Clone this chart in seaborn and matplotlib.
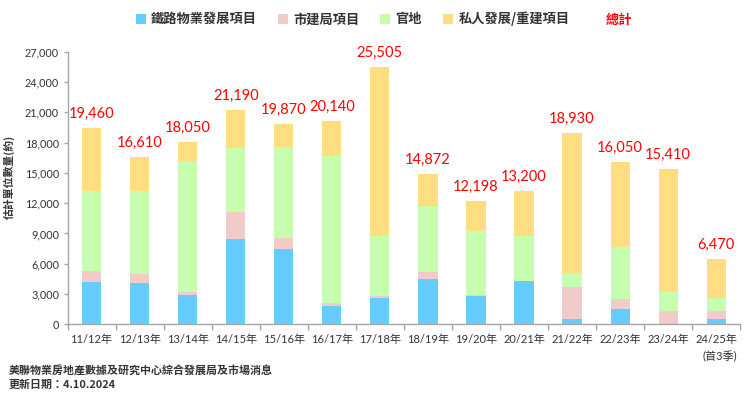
import matplotlib
matplotlib.use("Agg")
import matplotlib.pyplot as plt
import seaborn as sns
import numpy as np
from matplotlib.patches import Patch
from matplotlib.font_manager import FontProperties

# ---------------- data ----------------
periods = ["11/12年", "12/13年", "13/14年", "14/15年", "15/16年", "16/17年", "17/18年",
           "18/19年", "19/20年", "20/21年", "21/22年", "22/23年", "23/24年", "24/25年"]
tick_labels = periods[:-1] + ["24/25年\n(首3季)"]

rail = [4200, 4050, 2900, 8400, 7500, 1800, 2600, 4500, 2800, 4300, 500, 1550, 0, 550]
ura = [1100, 900, 270, 2700, 1060, 300, 230, 700, 100, 0, 3200, 920, 1300, 800]
govt = [7900, 8230, 12980, 6330, 8970, 14550, 5900, 6500, 6330, 4430, 1350, 5170, 1900, 1250]
private = [6260, 3430, 1900, 3760, 2340, 3490, 16775, 3172, 2968, 4470, 13880, 8410, 12210, 3870]
totals = [19460, 16610, 18050, 21190, 19870, 20140, 25505, 14872, 12198, 13200, 18930, 16050, 15410, 6470]

series_names = ["鐵路物業發展項目", "市建局項目", "官地", "私人發展/重建項目"]
total_name = "總計"
colors = ["#66CCFF", "#F2CBCB", "#C6FFB0", "#FFDD80"]

y_ticks = list(range(0, 27001, 3000))
y_label = "估計單位數量(約)"
note1 = "美聯物業房地產數據及研究中心綜合發展局及市場消息"
note2 = "更新日期：4.10.2024"

# ---------------- style ----------------
sns.set_theme(style="white")
plt.rcParams['font.family'] = ['Lato', 'Noto Sans CJK TC', 'DejaVu Sans']
cjk_bold = lambda size: FontProperties(family=['Noto Sans CJK TC', 'DejaVu Sans'], weight='bold', size=size)

fig = plt.figure(figsize=(7.5, 3.97), dpi=100)
ax = fig.add_axes([0.090, 0.183, 0.897, 0.687])

stack = np.cumsum(np.array([rail, ura, govt, private]), axis=0)
for i in reversed(range(4)):
    sns.barplot(x=periods, y=stack[i], order=periods, color=colors[i], saturation=1,
                width=0.4, errorbar=None, edgecolor='none', linewidth=0, ax=ax)

for i, t in enumerate(totals):
    ax.text(i, t + 1000, f"{t:,}", ha='center', va='baseline', color='#FF0000', fontsize=10.5)

ax.set_ylim(0, 27000)
ax.set_xlim(-0.5, len(periods) - 0.5)
ax.set_yticks(y_ticks)
ax.set_yticklabels([f"{v:,}" for v in y_ticks], fontsize=7.8, color='#333333')
ax.set_xticks(range(len(periods)))
ax.set_xticklabels(tick_labels, fontsize=8, color='#333333', linespacing=1.6, multialignment='right')
ax.set_xticks(np.arange(-0.5, len(periods), 1), minor=True)
ax.set_xlabel("")
ax.set_ylabel("")

ax.tick_params(axis='x', which='major', length=0, pad=7)
ax.tick_params(axis='x', which='minor', bottom=True, length=4, width=1, color='#A6A6A6', direction='out')
ax.tick_params(axis='y', which='major', left=True, length=3, width=1, color='#A6A6A6', direction='out', pad=3)

for s in ['top', 'right']:
    ax.spines[s].set_visible(False)
for s in ['left', 'bottom']:
    ax.spines[s].set_color('#A6A6A6')
    ax.spines[s].set_linewidth(1)

# legend
handles = [Patch(facecolor=c, edgecolor='none') for c in colors] + [Patch(facecolor='none', edgecolor='none')]
leg = fig.legend(handles, series_names + [total_name], loc='center', bbox_to_anchor=(0.512, 0.952),
                 ncol=5, frameon=False, handlelength=0.75, handleheight=0.75, handletextpad=0.4,
                 columnspacing=1.6, prop=cjk_bold(9.5))
for j, txt in enumerate(leg.get_texts()):
    txt.set_color('#FF0000' if j == 4 else '#333333')

fig.text(0.012, 0.555, y_label, rotation=90, ha='center', va='center', fontproperties=cjk_bold(7.8), color='#333333')
fig.text(0.011, 1 - 371 / 397, note1, ha='left', va='center', fontproperties=cjk_bold(7.9), color='#333333')
fig.text(0.011, 1 - 385 / 397, note2, ha='left', va='center', fontproperties=cjk_bold(7.9), color='#333333')

fig.savefig("out.png", dpi=100)
